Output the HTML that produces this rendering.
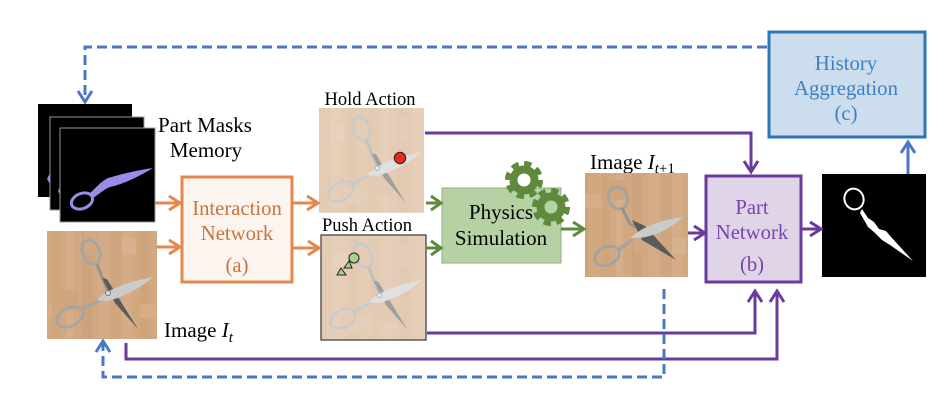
<!DOCTYPE html>
<html lang="en">
<head>
<meta charset="utf-8">
<title>Interaction and part network pipeline</title>
<style>
html,body{margin:0;padding:0;background:#fff;width:950px;height:403px;overflow:hidden}
svg{display:block}
text{font-family:"Liberation Serif",serif;text-anchor:middle}
.lbl{fill:#000;font-size:21px}
.start{text-anchor:start}
.ln{fill:none;stroke-linejoin:miter}
.org{stroke:#e3894d;stroke-width:3}
.grn{stroke:#5f8a3c;stroke-width:3}
.pur{stroke:#6a3a9e;stroke-width:3}
.blu{stroke:#4b78c6;stroke-width:3}
.dash{stroke-dasharray:10 5}
</style>
</head>
<body>
<svg width="950" height="403" viewBox="0 0 950 403" xmlns="http://www.w3.org/2000/svg">
<defs>
<filter id="soft" x="-2%" y="-2%" width="104%" height="104%"><feGaussianBlur stdDeviation="0.3"/></filter>
<pattern id="wood" width="110" height="110" patternUnits="userSpaceOnUse">
  <rect width="110" height="110" fill="#d2a880"/>
  <rect x="0" width="12" height="110" fill="#d0a67e"/>
  <rect x="12" width="10" height="110" fill="#d5ac87"/>
  <rect x="30" width="9" height="110" fill="#cea47b"/>
  <rect x="52" width="8" height="110" fill="#cfa67c"/>
  <rect x="66" width="7" height="110" fill="#d6ae8a"/>
  <rect x="82" width="10" height="110" fill="#cda37b"/>
  <rect x="98" width="12" height="110" fill="#d4ab87"/>
  <rect x="12" y="18" width="14" height="16" fill="#d8b28f"/>
  <rect x="60" y="70" width="18" height="20" fill="#d0a47e"/>
  <rect x="30" y="84" width="22" height="14" fill="#d5ad87"/>
  <rect x="84" y="10" width="14" height="24" fill="#d0a883"/>
</pattern>
<g id="scissors">
  <path d="M50 33 L55 46 L62 62" fill="none" stroke="#8f9492" stroke-width="3"/>
  <ellipse cx="44" cy="21" rx="8.5" ry="12.5" transform="rotate(-22 44 21)" fill="none" stroke="#a2a6a4" stroke-width="2.8"/>
  <path d="M55 47 L60 48 L66 58 L91 98 L68 72 Z" fill="#5a5b5a"/>
  <ellipse cx="23" cy="86" rx="14" ry="9" transform="rotate(-28 23 86)" fill="none" stroke="#a2a6a4" stroke-width="2.8"/>
  <path d="M35 78 L52 70" fill="none" stroke="#a2a6a4" stroke-width="3.5"/>
  <path d="M50 69 C60 58 84 50 106 46 C96 55 78 66 60 70 Z" fill="#c9cccb"/>
  <circle cx="61" cy="62" r="2.5" fill="#d8dad9" stroke="#777" stroke-width="1"/>
</g>
<g id="gear-shape">
  <circle r="14.5" fill="#5f8a3c"/>
  <circle r="16.5" fill="none" stroke="#5f8a3c" stroke-width="5" stroke-dasharray="7.4 5.56"/>
</g>
</defs>

<g filter="url(#soft)">
<!-- mask stack -->
<rect x="38" y="104" width="94" height="93" fill="#000"/>
<rect x="50" y="117" width="94" height="93" fill="#000" stroke="#999" stroke-width="1"/>
<rect x="60" y="128" width="95" height="94" fill="#000" stroke="#999" stroke-width="1"/>
<path d="M50 173 L47 179 L50 184 Z" fill="#9a8ce8"/>
<path d="M60 187 L58 191 L60 195 Z" fill="#9a8ce8"/>
<g>
  <ellipse cx="82" cy="201" rx="11" ry="7.5" transform="rotate(-22 82 201)" fill="none" stroke="#9a8ce8" stroke-width="3"/>
  <path d="M90 193 C96 188 100 182 108 178 C122 174 138 170 153 168 C140 176 124 184 110 187 C102 190 98 196 92 198 Z" fill="#9a8ce8"/>
</g>
<text class="lbl" x="205" y="132">Part Masks</text>
<text class="lbl" x="206" y="157">Memory</text>

<!-- image t -->
<g>
  <rect x="47" y="231" width="110" height="108" fill="url(#wood)"/>
  <use href="#scissors" x="47" y="231"/>
</g>
<text class="lbl start" x="164" y="337">Image <tspan font-style="italic">I</tspan><tspan font-style="italic" font-size="15" dy="5">t</tspan></text>

<!-- interaction network -->
<rect x="182" y="177" width="110" height="105" fill="#fbf4ef" stroke="#e3894d" stroke-width="3"/>
<g fill="#c9743a" font-size="20.7">
  <text x="237" y="215">Interaction</text>
  <text x="237" y="240">Network</text>
  <text x="237" y="272">(a)</text>
</g>

<!-- hold action -->
<text class="lbl" style="font-size:18.5px" x="370" y="105">Hold Action</text>
<g>
  <g transform="translate(319 108) scale(.955 .97)">
    <rect width="110" height="108" fill="url(#wood)"/>
    <use href="#scissors"/>
    <rect width="110" height="108" fill="#fff" opacity=".42"/>
  </g>
  <circle cx="400" cy="158" r="5.7" fill="#ea2a1e" stroke="#222" stroke-width="1"/>
</g>

<!-- push action -->
<text class="lbl" style="font-size:18.5px" x="367" y="231">Push Action</text>
<g>
  <g transform="translate(321 235) scale(.955 .972)">
    <rect width="110" height="108" fill="url(#wood)"/>
    <use href="#scissors"/>
    <rect width="110" height="108" fill="#fff" opacity=".42"/>
  </g>
  <rect x="321" y="235" width="105" height="105" fill="none" stroke="#444" stroke-width="1.3"/>
  <polygon points="349,261 344,268 352,268" fill="#a5d48a" stroke="#222" stroke-width="1"/>
  <polygon points="341,268 337,275 346,275" fill="#a5d48a" stroke="#222" stroke-width="1"/>
  <circle cx="354" cy="258" r="5" fill="#a5d48a" stroke="#222" stroke-width="1"/>
</g>

<!-- physics -->
<rect x="442" y="188" width="119" height="75" fill="#b6d2a4" stroke="#8fae7c" stroke-width="1"/>
<g transform="translate(524 180)">
  <use href="#gear-shape"/>
  <circle r="6.5" fill="#fff"/>
</g>
<g transform="translate(551 207)">
  <use href="#gear-shape"/>
  <circle r="6.5" fill="#b6d2a4"/>
</g>
<g fill="#000" font-size="21">
  <text x="501" y="219">Physics</text>
  <text x="501" y="245">Simulation</text>
</g>

<!-- image t+1 -->
<text class="lbl start" x="590" y="169">Image <tspan font-style="italic">I</tspan><tspan font-size="15" dy="4"><tspan font-style="italic">t</tspan>+1</tspan></text>
<g>
  <rect x="585" y="173" width="103" height="104" fill="url(#wood)"/>
  <ellipse cx="618" cy="198" rx="9.5" ry="11" transform="rotate(-22 618 198)" fill="none" stroke="#a0a4a3" stroke-width="2.8"/>
  <path d="M622 208 L630 224 L642 229" fill="none" stroke="#8f9492" stroke-width="3"/>
  <path d="M632 220 L645 226 L676 260 L642 240 Z" fill="#5a5b5a"/>
  <ellipse cx="607" cy="256" rx="13" ry="9" transform="rotate(-25 607 256)" fill="none" stroke="#a0a4a3" stroke-width="2.8"/>
  <path d="M618 250 L632 240" fill="none" stroke="#a0a4a3" stroke-width="3.5"/>
  <path d="M630 238 C645 225 662 220 683 217 C672 228 655 236 640 238 Z" fill="#c9cccb"/>
</g>

<!-- part network -->
<rect x="706" y="176" width="95" height="106" fill="#e0d4e9" stroke="#6a3a9e" stroke-width="3"/>
<g fill="#7a45a8" font-size="20.7">
  <text x="752" y="214">Part</text>
  <text x="752" y="239">Network</text>
  <text x="752" y="271">(b)</text>
</g>

<!-- output mask -->
<g>
  <rect x="822" y="174" width="104" height="103" fill="#000"/>
  <ellipse cx="854" cy="199" rx="9.5" ry="10.5" transform="rotate(-20 854 199)" fill="none" stroke="#fff" stroke-width="2"/>
  <path d="M862 209 L868 218 L874 222 L879 229 L886 231 L892 238 L913 261 L890 245 L882 240 L874 232 L868 227 L860 213 Z" fill="#fff"/>
</g>

<!-- history -->
<rect x="769" y="32" width="156" height="105" fill="#ccdeee" stroke="#2e75b6" stroke-width="3"/>
<g fill="#3f80c0" font-size="20.8">
  <text x="846" y="70">History</text>
  <text x="846" y="95">Aggregation</text>
  <text x="846" y="120">(c)</text>
</g>

<!-- orange arrows -->
<g class="ln org">
  <path d="M155 203H180M169 196L180 203L169 210"/>
  <path d="M157 247H180M169 240L180 247L169 254"/>
  <path d="M293 203H318M307 196L318 203L307 210"/>
  <path d="M293 248H319M308 241L319 248L308 255"/>
</g>
<!-- green arrows -->
<g class="ln grn">
  <path d="M426 203H441M431 196L441 203L431 210"/>
  <path d="M426 248H441M431 241L441 248L431 255"/>
  <path d="M561 229H584M573 222L584 229L573 236"/>
</g>
<!-- purple arrows -->
<g class="ln pur">
  <path d="M425 133H751V172M744 161L751 172L758 161"/>
  <path d="M688 233H705M694 226L705 233L694 240"/>
  <path d="M801 229H821M810 222L821 229L810 236"/>
  <path d="M427 333H755V291M748 302L755 291L762 302"/>
  <path d="M126 343V359H777V291M770 302L777 291L784 302"/>
</g>
<!-- blue arrows -->
<g class="ln blu">
  <path d="M908 174V142M901 153L908 142L915 153"/>
  <path class="dash" d="M767 47H85V100"/>
  <path d="M78 91L85 102L92 91"/>
  <path class="dash" d="M664 289V377H103V344"/>
  <path d="M96 352L103 341L110 352"/>
</g>
</g>
</svg>
</body>
</html>
